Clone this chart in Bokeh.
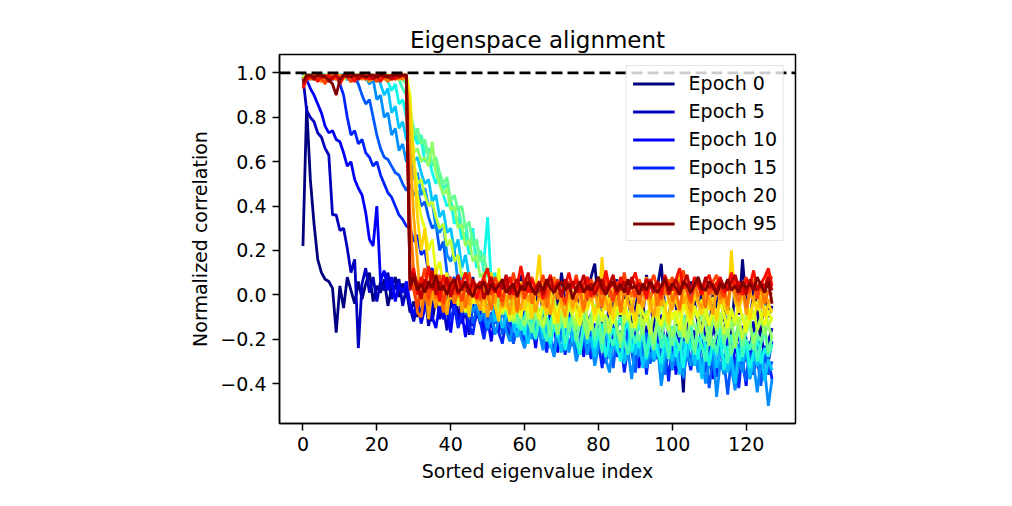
from bokeh.plotting import figure
from bokeh.models import Range1d, FixedTicker, CustomJSTickFormatter, Span, Legend, LegendItem
from bokeh.embed import file_html
from bokeh.resources import INLINE

# ---------------- data ----------------
epochs = [0, 5, 10, 15, 20, 25, 30, 35, 40, 45, 50, 55, 60, 65, 70, 75, 80, 85, 90, 95]
legend_epochs = [0, 5, 10, 15, 20, 95]
eig_index = list(range(128))
x_ticks = [0, 20, 40, 60, 80, 100, 120]
y_ticks = [-0.4, -0.2, 0.0, 0.2, 0.4, 0.6, 0.8, 1.0]
ref_level = 1.0

corr_e0 = [
    0.22, 0.85, 0.52, 0.32, 0.16, 0.10, 0.07, 0.06, 0.03, -0.17, 0.04, -0.06, 0.08, 0.02, -0.04, 0.06,
    -0.02, 0.05, 0.10, -0.03, 0.04, 0.01, 0.07, -0.05, 0.03, 0.08, -0.01, 0.05, 0.02, -0.08, -0.03, -0.10,
    0.02, -0.06, 0.05, -0.12, -0.02, 0.04, -0.09, 0.01, -0.05, 0.06, -0.11, -0.03, 0.03, -0.07, 0.08, -0.04,
    -0.13, 0.00, -0.06, 0.05, -0.10, -0.02, 0.07, -0.08, -0.15, 0.02, -0.04, 0.09, -0.07, -0.12, 0.03, -0.05,
    0.06, -0.09, -0.01, -0.14, 0.04, -0.06, 0.10, -0.03, -0.11, 0.01, -0.07, 0.05, -0.16, -0.02, 0.08, 0.14,
    -0.04, -0.10, -0.27, 0.02, -0.08, 0.07, -0.13, -0.03, 0.05, -0.18, -0.06, 0.03, -0.11, 0.09, -0.02, -0.15,
    0.04, 0.14, -0.07, -0.12, 0.02, -0.05, -0.20, -0.44, -0.09, 0.06, -0.03, -0.14, 0.03, -0.08, -0.17, 0.01,
    -0.06, 0.07, -0.12, -0.02, -0.19, 0.05, -0.09, 0.16, -0.04, -0.13, 0.02, -0.07, -0.22, 0.04, -0.10, -0.05,
]
corr_e5 = [
    0.98, 0.83, 0.80, 0.78, 0.73, 0.71, 0.66, 0.63, 0.36, 0.36, 0.29, 0.30, 0.21, 0.10, 0.16, -0.24,
    0.05, 0.12, 0.01, 0.08, -0.03, 0.06, 0.02, 0.10, -0.02, 0.04, 0.07, -0.05, 0.03, -0.06, -0.12, -0.04,
    -0.09, 0.01, -0.14, -0.06, 0.03, -0.11, -0.05, -0.16, -0.02, -0.09, 0.02, -0.13, -0.07, -0.18, -0.04, -0.10,
    -0.01, -0.15, -0.08, -0.12, -0.03, -0.17, -0.06, -0.11, -0.20, -0.07, -0.02, -0.14, -0.09, -0.19, -0.05, -0.12,
    -0.16, -0.08, -0.22, -0.10, -0.04, -0.15, -0.11, -0.21, -0.07, -0.13, -0.18, -0.06, -0.24, -0.12, -0.09, -0.17,
    -0.11, -0.20, -0.14, -0.06, -0.23, -0.15, -0.10, -0.19, -0.27, -0.12, -0.17, -0.08, -0.21, -0.14, -0.26, -0.11,
    -0.18, -0.09, -0.24, -0.15, -0.20, -0.13, -0.29, -0.17, -0.11, -0.22, -0.16, -0.30, -0.12, -0.19, -0.25, -0.14,
    -0.21, -0.28, -0.15, -0.10, -0.23, -0.18, -0.32, -0.14, -0.20, -0.26, -0.12, -0.24, -0.17, -0.29, -0.21, -0.15,
]
corr_e10 = [
    1.00, 0.97, 0.93, 0.90, 0.86, 0.82, 0.76, 0.73, 0.74, 0.70, 0.69, 0.64, 0.58, 0.60, 0.52, 0.48,
    0.45, 0.37, 0.25, 0.22, 0.40, 0.06, 0.11, 0.02, 0.08, -0.03, 0.05, 0.01, 0.06, -0.04, -0.09, -0.02,
    -0.13, -0.06, 0.02, -0.10, -0.15, -0.04, -0.11, -0.07, -0.17, -0.03, -0.12, -0.08, -0.19, -0.05, -0.14, -0.10,
    -0.06, -0.18, -0.11, -0.21, -0.08, -0.14, -0.03, -0.16, -0.12, -0.22, -0.09, -0.15, -0.07, -0.19, -0.13, -0.24,
    -0.10, -0.17, -0.08, -0.20, -0.14, -0.26, -0.12, -0.18, -0.09, -0.23, -0.16, -0.11, -0.28, -0.15, -0.20, -0.13,
    -0.24, -0.17, -0.31, -0.12, -0.21, -0.16, -0.27, -0.10, -0.19, -0.25, -0.14, -0.33, -0.18, -0.22, -0.13, -0.28,
    -0.20, -0.15, -0.30, -0.23, -0.17, -0.36, -0.21, -0.14, -0.27, -0.19, -0.32, -0.24, -0.16, -0.29, -0.22, -0.38,
    -0.18, -0.26, -0.31, -0.20, -0.35, -0.24, -0.17, -0.29, -0.41, -0.22, -0.27, -0.19, -0.33, -0.25, -0.30, -0.21,
]
corr_e15 = [
    1.00, 0.99, 0.99, 0.98, 0.99, 0.99, 0.98, 0.99, 0.97, 0.99, 0.95, 0.90, 0.80, 0.72, 0.74, 0.68,
    0.70, 0.64, 0.62, 0.58, 0.60, 0.54, 0.50, 0.46, 0.44, 0.40, 0.36, 0.34, 0.31, 0.30, 0.24, 0.27,
    0.18, 0.20, 0.10, 0.12, 0.02, 0.05, -0.08, -0.02, -0.12, -0.05, -0.15, -0.09, -0.03, -0.14, -0.18, -0.07,
    -0.12, -0.20, -0.09, -0.15, -0.05, -0.17, -0.22, -0.11, -0.16, -0.08, -0.19, -0.13, -0.24, -0.10, -0.17, -0.21,
    -0.12, -0.18, -0.26, -0.14, -0.09, -0.21, -0.16, -0.27, -0.13, -0.19, -0.23, -0.11, -0.25, -0.18, -0.29, -0.15,
    -0.21, -0.33, -0.17, -0.24, -0.12, -0.28, -0.20, -0.35, -0.23, -0.16, -0.30, -0.25, -0.19, -0.36, -0.22, -0.27,
    -0.18, -0.31, -0.24, -0.39, -0.21, -0.28, -0.17, -0.33, -0.26, -0.34, -0.23, -0.30, -0.20, -0.35, -0.27, -0.22,
    -0.37, -0.25, -0.31, -0.19, -0.34, -0.28, -0.42, -0.24, -0.30, -0.21, -0.36, -0.27, -0.33, -0.23, -0.29, -0.38,
]
corr_e20 = [
    1.00, 0.99, 0.99, 0.98, 0.99, 0.99, 0.97, 0.99, 0.99, 0.98, 0.99, 0.99, 0.97, 0.99, 0.98, 0.95,
    0.90, 0.86, 0.88, 0.80, 0.72, 0.66, 0.62, 0.61, 0.58, 0.55, 0.54, 0.50, 0.47, 0.50, 0.45, 0.47,
    0.40, 0.42, 0.35, 0.30, 0.32, 0.20, 0.24, 0.10, 0.05, 0.08, -0.04, 0.00, -0.09, -0.03, -0.13, -0.07,
    -0.02, -0.11, -0.16, -0.08, -0.13, -0.04, -0.18, -0.10, -0.15, -0.22, -0.09, -0.14, -0.19, -0.12, -0.06, -0.20,
    -0.15, -0.23, -0.11, -0.18, -0.26, -0.14, -0.20, -0.09, -0.24, -0.17, -0.28, -0.13, -0.21, -0.25, -0.16, -0.30,
    -0.19, -0.14, -0.27, -0.22, -0.33, -0.18, -0.24, -0.29, -0.16, -0.26, -0.35, -0.21, -0.28, -0.17, -0.31, -0.24,
    -0.29, -0.20, -0.36, -0.25, -0.19, -0.32, -0.27, -0.38, -0.22, -0.30, -0.26, -0.34, -0.21, -0.29, -0.42, -0.27,
    -0.33, -0.24, -0.30, -0.45, -0.28, -0.35, -0.22, -0.31, -0.39, -0.26, -0.33, -0.29, -0.41, -0.25, -0.36, -0.30,
]
corr_e25 = [
    0.99, 0.98, 0.99, 0.99, 0.97, 0.99, 0.99, 0.98, 0.99, 0.97, 0.99, 0.99, 0.98, 0.99, 0.99, 0.97,
    0.99, 0.98, 0.95, 0.97, 0.88, 0.90, 0.80, 0.82, 0.72, 0.75, 0.65, 0.68, 0.60, 0.62, 0.52, 0.55,
    0.45, 0.48, 0.40, 0.42, 0.30, 0.28, 0.32, 0.18, 0.15, 0.20, 0.05, 0.10, -0.02, 0.03, -0.08, -0.04,
    -0.12, -0.06, -0.15, -0.09, -0.18, -0.11, -0.05, -0.16, -0.21, -0.13, -0.08, -0.19, -0.24, -0.14, -0.20, -0.10,
    -0.17, -0.25, -0.13, -0.22, -0.28, -0.16, -0.21, -0.11, -0.26, -0.19, -0.30, -0.23, -0.15, -0.27, -0.20, -0.32,
    -0.24, -0.18, -0.29, -0.35, -0.21, -0.26, -0.16, -0.31, -0.25, -0.38, -0.22, -0.28, -0.19, -0.33, -0.26, -0.30,
    -0.23, -0.41, -0.29, -0.24, -0.34, -0.20, -0.30, -0.37, -0.26, -0.32, -0.22, -0.35, -0.28, -0.40, -0.31, -0.25,
    -0.46, -0.30, -0.36, -0.27, -0.33, -0.43, -0.29, -0.35, -0.24, -0.38, -0.31, -0.44, -0.28, -0.34, -0.50, -0.38,
]
corr_e30 = [
    0.99, 0.99, 0.97, 0.99, 0.98, 0.99, 0.99, 0.97, 0.99, 0.98, 0.99, 0.99, 0.97, 0.99, 0.98, 0.99,
    0.99, 0.97, 0.99, 0.98, 0.99, 0.95, 0.90, 0.93, 0.82, 0.85, 0.75, 0.78, 0.70, 0.68, 0.60, 0.62,
    0.55, 0.50, 0.52, 0.42, 0.45, 0.35, 0.38, 0.28, 0.30, 0.20, 0.25, 0.12, 0.18, 0.08, 0.02, 0.05,
    -0.05, 0.00, -0.09, -0.03, -0.12, -0.07, -0.15, -0.10, -0.04, -0.14, -0.19, -0.09, -0.16, -0.22, -0.11, -0.17,
    -0.08, -0.20, -0.14, -0.24, -0.12, -0.18, -0.26, -0.15, -0.10, -0.21, -0.17, -0.27, -0.13, -0.22, -0.19, -0.28,
    -0.16, -0.23, -0.12, -0.29, -0.20, -0.25, -0.17, -0.31, -0.22, -0.15, -0.27, -0.20, -0.33, -0.24, -0.18, -0.29,
    -0.22, -0.34, -0.26, -0.19, -0.30, -0.24, -0.36, -0.21, -0.28, -0.17, -0.32, -0.25, -0.38, -0.23, -0.29, -0.20,
    -0.33, -0.26, -0.21, -0.35, -0.28, -0.40, -0.24, -0.30, -0.22, -0.37, -0.27, -0.32, -0.25, -0.39, -0.29, -0.34,
]
corr_e35 = [
    0.99, 0.98, 0.99, 0.99, 0.97, 0.99, 0.99, 0.98, 0.99, 0.97, 0.99, 0.99, 0.98, 0.99, 0.99, 0.97,
    0.99, 0.98, 0.99, 0.99, 0.97, 0.99, 0.98, 0.96, 0.92, 0.95, 0.86, 0.88, 0.80, 0.78, 0.72, 0.68,
    0.70, 0.60, 0.62, 0.55, 0.50, 0.55, 0.45, 0.40, 0.42, 0.32, 0.35, 0.25, 0.28, 0.18, 0.30, 0.12,
    0.20, 0.15, 0.35, 0.05, 0.10, -0.02, -0.08, -0.03, -0.12, -0.06, -0.15, -0.10, -0.18, -0.07, -0.13, -0.20,
    -0.11, -0.17, -0.08, -0.22, -0.14, -0.19, -0.10, -0.25, -0.16, -0.12, -0.21, -0.27, -0.15, -0.19, -0.11, -0.24,
    -0.18, -0.13, -0.28, -0.20, -0.15, -0.23, -0.30, -0.17, -0.12, -0.26, -0.19, -0.24, -0.14, -0.29, -0.21, -0.17,
    -0.26, -0.31, -0.19, -0.23, -0.15, -0.28, -0.22, -0.33, -0.18, -0.25, -0.20, -0.29, -0.16, -0.24, -0.32, -0.21,
    -0.27, -0.19, -0.34, -0.23, -0.28, -0.17, -0.30, -0.25, -0.21, -0.33, -0.26, -0.19, -0.31, -0.24, -0.28, -0.22,
]
corr_e40 = [
    0.99, 0.99, 0.98, 0.99, 0.99, 0.97, 0.99, 0.99, 0.98, 0.99, 0.99, 0.98, 0.99, 0.97, 0.99, 0.99,
    0.98, 0.99, 0.99, 0.97, 0.99, 0.98, 0.99, 0.99, 0.97, 0.99, 0.97, 0.93, 0.90, 0.82, 0.75, 0.70,
    0.72, 0.64, 0.66, 0.58, 0.60, 0.52, 0.48, 0.50, 0.42, 0.38, 0.40, 0.30, 0.32, 0.22, 0.28, 0.15,
    0.20, 0.10, 0.12, 0.03, 0.06, -0.04, -0.01, -0.09, -0.05, -0.13, -0.08, -0.16, -0.10, -0.04, -0.14, -0.19,
    -0.09, -0.15, -0.21, -0.12, -0.07, -0.17, -0.11, -0.22, -0.14, -0.09, -0.19, -0.25, -0.13, -0.18, -0.10, -0.21,
    -0.15, -0.26, -0.12, -0.19, -0.23, -0.14, -0.10, -0.20, -0.27, -0.16, -0.22, -0.13, -0.18, -0.28, -0.15, -0.21,
    -0.11, -0.24, -0.18, -0.29, -0.14, -0.20, -0.25, -0.16, -0.22, -0.12, -0.27, -0.19, -0.23, -0.30, -0.17, -0.21,
    -0.26, -0.15, -0.22, -0.31, -0.18, -0.24, -0.14, -0.28, -0.20, -0.25, -0.17, -0.30, -0.22, -0.16, -0.27, -0.23,
]
corr_e45 = [
    0.99, 0.98, 0.99, 0.99, 0.97, 0.99, 0.99, 0.98, 0.99, 0.99, 0.97, 0.99, 0.98, 0.99, 0.99, 0.98,
    0.99, 0.97, 0.99, 0.99, 0.98, 0.99, 0.99, 0.97, 0.99, 0.98, 0.99, 0.97, 0.95, 0.85, 0.72, 0.75,
    0.68, 0.70, 0.62, 0.60, 0.62, 0.55, 0.50, 0.53, 0.42, 0.45, 0.38, 0.40, 0.30, 0.33, 0.22, 0.25,
    0.15, 0.18, 0.08, 0.10, 0.02, 0.05, -0.05, -0.02, -0.10, -0.06, -0.13, -0.08, -0.03, -0.12, -0.17, -0.09,
    -0.14, -0.06, -0.11, -0.19, -0.08, -0.15, -0.12, -0.05, -0.17, -0.10, -0.21, -0.13, -0.08, -0.16, -0.11, -0.19,
    -0.09, -0.22, -0.14, -0.18, -0.10, -0.16, -0.24, -0.12, -0.07, -0.19, -0.13, -0.21, -0.15, -0.09, -0.18, -0.25,
    -0.13, -0.20, -0.11, -0.17, -0.23, -0.14, -0.19, -0.09, -0.22, -0.16, -0.26, -0.12, -0.18, -0.21, -0.14, -0.24,
    -0.17, -0.11, -0.22, -0.15, -0.27, -0.19, -0.13, -0.23, -0.17, -0.12, -0.25, -0.18, -0.21, -0.14, -0.26, -0.19,
]
corr_e50 = [
    0.98, 0.99, 0.99, 0.97, 0.99, 0.99, 0.98, 0.99, 0.99, 0.98, 0.99, 0.97, 0.99, 0.99, 0.98, 0.99,
    0.99, 0.99, 0.98, 0.99, 0.99, 0.97, 0.99, 0.99, 0.98, 0.99, 0.99, 0.98, 0.99, 0.78, 0.64, 0.66,
    0.60, 0.62, 0.58, 0.69, 0.55, 0.50, 0.45, 0.48, 0.38, 0.40, 0.30, 0.32, 0.22, 0.25, 0.15, 0.18,
    0.08, 0.10, 0.00, 0.03, -0.05, -0.01, -0.09, -0.04, -0.12, -0.06, -0.02, -0.10, -0.14, -0.07, -0.03, -0.11,
    -0.06, -0.15, -0.09, -0.04, -0.12, -0.18, -0.08, -0.13, -0.05, -0.10, -0.16, -0.07, -0.12, -0.20, -0.09, -0.04,
    -0.13, -0.08, -0.17, -0.11, -0.06, -0.14, -0.21, -0.09, -0.12, -0.05, -0.15, -0.10, -0.18, -0.07, -0.13, -0.22,
    -0.10, -0.16, -0.08, -0.13, -0.19, -0.11, -0.06, -0.15, -0.21, -0.09, -0.14, -0.18, -0.07, -0.12, -0.23, -0.10,
    -0.16, -0.13, -0.08, -0.19, -0.11, -0.24, -0.14, -0.09, -0.17, -0.12, -0.22, -0.15, -0.10, -0.18, -0.13, -0.20,
]
corr_e55 = [
    0.97, 0.99, 0.99, 0.98, 0.99, 0.99, 0.97, 0.99, 0.98, 0.99, 0.99, 0.98, 0.99, 0.97, 0.99, 0.99,
    0.99, 0.98, 0.99, 0.99, 0.97, 0.99, 0.98, 0.99, 0.99, 0.98, 0.99, 0.99, 0.99, 0.70, 0.60, 0.50,
    0.52, 0.45, 0.40, 0.42, 0.35, 0.30, 0.32, 0.22, 0.25, 0.15, 0.18, 0.08, 0.10, 0.02, 0.06, -0.04,
    0.01, -0.08, -0.02, -0.06, 0.03, -0.10, -0.04, -0.07, 0.00, -0.12, -0.05, -0.09, -0.02, -0.11, -0.06, -0.03,
    -0.10, -0.14, -0.05, -0.08, -0.01, -0.12, -0.07, -0.15, -0.04, -0.09, -0.13, -0.06, -0.02, -0.11, -0.16, -0.08,
    -0.05, -0.12, -0.09, -0.17, -0.06, -0.10, -0.03, -0.13, -0.08, -0.15, -0.11, -0.05, -0.14, -0.09, -0.18, -0.07,
    -0.12, -0.04, -0.10, -0.16, -0.08, -0.13, -0.06, -0.19, -0.10, -0.14, -0.07, -0.11, -0.17, -0.05, -0.12, -0.09,
    -0.15, -0.08, -0.18, -0.11, -0.06, -0.14, -0.10, -0.20, -0.09, -0.13, -0.07, -0.16, -0.11, -0.05, -0.14, -0.10,
]
corr_e60 = [
    0.98, 0.99, 0.99, 0.98, 0.99, 0.97, 0.99, 0.99, 0.98, 0.99, 0.99, 0.97, 0.99, 0.98, 0.99, 0.99,
    0.98, 0.99, 0.99, 0.97, 0.99, 0.98, 0.99, 0.99, 0.98, 0.99, 0.97, 0.99, 0.99, 0.90, 0.62, 0.45,
    0.35, 0.30, 0.20, 0.25, 0.10, 0.15, 0.05, 0.10, -0.02, 0.06, -0.05, 0.03, -0.08, 0.00, -0.04, 0.05,
    -0.07, -0.01, -0.10, 0.02, -0.04, 0.12, -0.08, -0.03, -0.12, 0.00, -0.06, -0.10, -0.02, -0.08, 0.03, -0.05,
    -0.11, -0.04, -0.08, 0.01, -0.13, -0.06, -0.02, -0.10, -0.05, 0.02, -0.09, -0.14, -0.04, -0.07, -0.01, -0.12,
    -0.06, -0.10, 0.00, -0.08, -0.13, -0.04, -0.09, -0.02, -0.11, -0.06, -0.15, -0.03, -0.08, -0.12, -0.05, -0.01,
    -0.09, -0.14, -0.06, -0.02, -0.11, -0.07, -0.16, -0.04, -0.09, -0.13, -0.05, -0.10, -0.02, -0.08, -0.14, -0.06,
    -0.11, -0.03, -0.09, -0.15, -0.07, -0.12, -0.04, -0.10, -0.17, -0.06, -0.11, -0.03, -0.09, -0.14, -0.07, -0.12,
]
corr_e65 = [
    0.97, 0.99, 0.98, 0.99, 0.97, 0.99, 0.98, 0.99, 0.99, 0.97, 0.99, 0.98, 0.99, 0.99, 0.97, 0.99,
    0.99, 0.98, 0.99, 0.97, 0.99, 0.99, 0.98, 0.99, 0.97, 0.99, 0.99, 0.98, 0.99, 0.85, 0.60, 0.35,
    0.20, 0.30, 0.10, 0.02, 0.12, -0.05, 0.04, -0.08, 0.06, -0.02, 0.08, -0.06, 0.01, -0.10, 0.03, -0.04,
    0.05, -0.08, 0.00, 0.10, -0.05, -0.12, 0.02, -0.06, 0.04, -0.09, -0.02, 0.06, -0.07, 0.00, -0.11, 0.03,
    0.18, -0.04, -0.09, 0.02, -0.06, -0.13, 0.01, -0.05, 0.05, -0.08, -0.02, -0.10, 0.03, -0.06, 0.00, -0.09,
    -0.03, 0.17, -0.07, -0.01, -0.11, 0.04, -0.05, -0.09, 0.02, -0.04, -0.12, 0.00, -0.06, 0.03, -0.08, -0.02,
    -0.10, 0.01, -0.05, -0.13, 0.04, -0.03, -0.08, 0.02, -0.06, -0.11, 0.00, -0.04, -0.09, 0.03, -0.07, -0.01,
    -0.12, 0.02, -0.05, -0.09, 0.20, -0.03, -0.08, 0.01, -0.06, -0.11, -0.02, -0.07, 0.03, -0.10, -0.04, -0.08,
]
corr_e70 = [
    0.96, 0.98, 0.99, 0.97, 0.99, 0.99, 0.97, 0.99, 0.98, 0.99, 0.96, 0.99, 0.98, 0.99, 0.97, 0.99,
    0.98, 0.99, 0.96, 0.99, 0.98, 0.99, 0.97, 0.99, 0.98, 0.99, 0.97, 0.99, 0.99, 0.65, 0.35, 0.15,
    -0.05, 0.06, -0.11, 0.02, -0.06, 0.08, -0.03, -0.09, 0.03, -0.04, 0.05, -0.08, 0.00, -0.05, 0.07, -0.02,
    -0.07, 0.03, -0.10, 0.01, -0.04, 0.06, -0.06, 0.00, -0.09, 0.04, -0.02, -0.07, 0.05, -0.03, 0.02, -0.08,
    0.00, -0.05, 0.04, -0.09, -0.01, 0.06, -0.04, -0.10, 0.02, -0.06, 0.03, -0.02, -0.08, 0.05, -0.03, 0.01,
    -0.06, 0.04, -0.02, -0.09, 0.03, -0.05, 0.00, 0.07, -0.04, -0.08, 0.02, -0.01, -0.06, 0.05, -0.03, -0.10,
    0.01, -0.05, 0.04, -0.02, -0.07, 0.03, 0.09, -0.04, 0.00, -0.08, 0.05, -0.03, -0.06, 0.02, -0.01, -0.09,
    0.04, -0.04, 0.00, -0.07, 0.06, -0.02, -0.05, 0.03, -0.09, 0.01, -0.03, 0.05, -0.06, 0.02, -0.04, -0.01,
]
corr_e75 = [
    0.95, 0.99, 0.97, 0.99, 0.98, 0.96, 0.99, 0.98, 0.99, 0.97, 0.99, 0.98, 0.99, 0.96, 0.98, 0.99,
    0.97, 0.99, 0.98, 0.99, 0.97, 0.99, 0.98, 0.96, 0.99, 0.98, 0.99, 0.97, 0.99, 0.35, 0.10, -0.08,
    -0.10, 0.02, -0.05, 0.07, -0.02, 0.04, -0.08, 0.03, 0.08, -0.04, 0.01, 0.06, -0.06, 0.02, -0.01, 0.05,
    -0.03, 0.09, 0.00, -0.07, 0.04, 0.01, -0.05, 0.06, -0.02, 0.03, -0.08, 0.05, 0.00, 0.07, -0.04, 0.02,
    -0.01, 0.05, -0.06, 0.03, 0.08, -0.02, 0.01, -0.05, 0.06, 0.00, -0.03, 0.04, -0.07, 0.02, 0.05, -0.01,
    0.03, -0.06, 0.07, 0.00, -0.03, 0.05, -0.08, 0.02, 0.04, -0.01, 0.06, -0.04, 0.01, 0.08, -0.02, 0.03,
    -0.05, 0.04, 0.00, 0.07, -0.03, 0.02, -0.07, 0.05, 0.01, -0.04, 0.06, -0.01, 0.03, -0.06, 0.04, 0.00,
    0.06, -0.02, 0.03, -0.05, 0.08, 0.01, -0.03, 0.05, -0.06, 0.02, 0.07, -0.01, 0.04, -0.04, 0.02, 0.00,
]
corr_e80 = [
    0.94, 0.98, 0.99, 0.97, 0.99, 0.98, 0.95, 0.99, 0.98, 0.99, 0.97, 0.99, 0.98, 0.96, 0.99, 0.98,
    0.99, 0.97, 0.99, 0.98, 0.96, 0.99, 0.98, 0.99, 0.97, 0.99, 0.98, 0.99, 0.99, 0.10, 0.02, -0.06,
    0.05, 0.12, -0.02, 0.06, 0.01, 0.09, -0.04, 0.04, 0.08, 0.00, 0.06, -0.03, 0.03, 0.10, 0.01, 0.05,
    -0.02, 0.07, 0.03, 0.00, 0.08, 0.04, -0.03, 0.06, 0.02, 0.10, 0.00, 0.05, -0.02, 0.04, 0.08, 0.01,
    0.03, 0.09, -0.01, 0.05, 0.02, 0.07, 0.00, -0.04, 0.06, 0.03, 0.09, 0.01, 0.04, -0.02, 0.07, 0.02,
    0.05, 0.00, 0.08, 0.03, -0.03, 0.06, 0.02, 0.10, 0.01, 0.04, -0.01, 0.07, 0.03, 0.00, 0.05, 0.09,
    0.02, -0.02, 0.06, 0.03, 0.08, 0.00, 0.04, 0.11, 0.02, -0.03, 0.05, 0.07, 0.01, 0.04, 0.00, 0.06,
    0.09, 0.02, -0.01, 0.05, 0.03, 0.07, 0.00, 0.04, 0.08, 0.01, 0.05, -0.02, 0.06, 0.03, 0.10, 0.07,
]
corr_e85 = [
    0.93, 0.97, 0.98, 0.99, 0.96, 0.99, 0.98, 0.99, 0.97, 0.99, 0.95, 0.98, 0.99, 0.99, 0.96, 0.99,
    0.98, 0.99, 0.97, 0.99, 0.99, 0.96, 0.99, 0.98, 0.99, 0.97, 0.99, 0.99, 0.98, 0.06, 0.12, 0.00,
    0.08, 0.03, 0.13, 0.02, 0.06, -0.03, 0.09, 0.04, 0.01, 0.07, 0.00, 0.05, 0.10, 0.03, 0.06, -0.02,
    0.04, 0.08, 0.12, 0.02, 0.05, -0.01, 0.06, 0.03, 0.08, 0.00, 0.04, 0.13, 0.05, 0.01, 0.07, 0.03,
    0.06, -0.02, 0.05, 0.09, 0.02, 0.06, 0.00, 0.04, 0.10, 0.03, 0.07, 0.01, 0.05, 0.08, -0.01, 0.04,
    0.07, 0.02, 0.11, 0.03, 0.05, 0.00, 0.08, 0.04, 0.01, 0.06, 0.10, 0.02, 0.05, -0.02, 0.07, 0.03,
    0.06, 0.00, 0.09, 0.04, 0.02, 0.07, 0.12, 0.03, 0.05, 0.01, 0.08, 0.04, 0.00, 0.06, 0.09, 0.02,
    0.05, 0.08, 0.01, 0.04, 0.10, 0.03, 0.06, 0.00, 0.07, 0.04, 0.11, 0.02, 0.05, 0.08, 0.12, 0.04,
]
corr_e90 = [
    0.95, 0.98, 0.99, 0.97, 0.99, 0.98, 0.99, 0.96, 0.98, 0.99, 0.97, 0.99, 0.98, 0.99, 0.99, 0.97,
    0.99, 0.98, 0.99, 0.97, 0.99, 0.99, 0.98, 0.99, 0.97, 0.99, 0.98, 0.99, 0.99, 0.02, 0.10, 0.05,
    -0.02, 0.07, 0.03, 0.11, 0.00, 0.06, 0.02, 0.08, -0.01, 0.04, 0.09, 0.02, 0.05, 0.00, 0.07, 0.03,
    0.06, -0.02, 0.04, 0.08, 0.01, 0.05, 0.03, 0.09, 0.00, 0.04, 0.07, 0.02, 0.05, 0.10, 0.01, 0.03,
    0.06, 0.00, 0.04, 0.08, 0.02, 0.05, -0.01, 0.07, 0.03, 0.06, 0.01, 0.04, 0.09, 0.02, 0.05, 0.00,
    0.04, 0.07, 0.02, 0.05, 0.09, 0.01, 0.03, 0.06, 0.00, 0.08, 0.03, 0.05, 0.02, 0.07, 0.04, 0.01,
    0.06, 0.03, 0.08, 0.00, 0.04, 0.07, 0.02, 0.05, 0.09, 0.01, 0.04, 0.06, 0.02, 0.08, 0.03, 0.05,
    0.01, 0.07, 0.04, 0.02, 0.06, 0.09, 0.03, 0.05, 0.00, 0.07, 0.04, 0.02, 0.06, 0.03, 0.08, 0.02,
]
corr_e95 = [
    0.96, 0.99, 0.99, 0.98, 0.99, 0.99, 0.98, 0.97, 0.95, 0.90, 0.97, 0.99, 0.99, 0.98, 0.99, 0.99,
    0.99, 0.98, 0.99, 0.99, 0.98, 0.99, 0.99, 0.98, 0.99, 0.99, 0.99, 0.99, 0.99, 0.04, 0.08, 0.02,
    0.05, 0.01, 0.06, 0.03, 0.09, 0.02, 0.04, 0.00, 0.05, 0.07, 0.01, 0.03, 0.06, 0.02, -0.01, 0.04,
    0.03, 0.06, 0.00, 0.05, 0.02, 0.04, 0.07, 0.01, 0.03, 0.05, -0.01, 0.04, 0.02, 0.06, 0.03, 0.00,
    0.05, 0.02, 0.07, 0.03, 0.01, 0.04, 0.06, 0.02, 0.05, -0.02, 0.03, 0.06, 0.01, 0.04, 0.02, 0.05,
    0.08, 0.03, 0.00, 0.04, 0.06, 0.02, 0.05, 0.01, 0.07, 0.03, 0.04, 0.00, 0.05, 0.02, 0.06, 0.03,
    0.01, 0.04, 0.07, 0.02, 0.05, 0.03, 0.00, 0.06, 0.04, 0.01, 0.05, 0.08, 0.03, 0.02, 0.06, 0.04,
    0.00, 0.05, 0.03, 0.07, 0.02, 0.04, 0.01, 0.06, 0.03, 0.05, 0.02, 0.08, 0.04, 0.01, 0.06, -0.04,
]

series = [corr_e0, corr_e5, corr_e10, corr_e15, corr_e20, corr_e25, corr_e30, corr_e35,
          corr_e40, corr_e45, corr_e50, corr_e55, corr_e60, corr_e65, corr_e70, corr_e75,
          corr_e80, corr_e85, corr_e90, corr_e95]

# ---------------- jet colormap (matplotlib definition) ----------------
_R = [(0, 0), (0.35, 0), (0.66, 1), (0.89, 1), (1, 0.5)]
_G = [(0, 0), (0.125, 0), (0.375, 1), (0.64, 1), (0.91, 0), (1, 0)]
_B = [(0, 0.5), (0.11, 1), (0.34, 1), (0.65, 0), (1, 0)]


def _seg(t, pts):
    for (x0, y0), (x1, y1) in zip(pts, pts[1:]):
        if t <= x1:
            return y0 + (y1 - y0) * (t - x0) / (x1 - x0)
    return pts[-1][1]


def jet(t):
    r, g, b = (_seg(t, c) for c in (_R, _G, _B))
    return "#%02x%02x%02x" % (round(r * 255), round(g * 255), round(b * 255))


FONT = "DejaVu Sans"

p = figure(width=996, height=490, output_backend="svg", toolbar_location=None,
           x_range=Range1d(-6.35, 133.35), y_range=Range1d(-0.58, 1.083),
           min_border_left=279, min_border_right=201, min_border_top=54, min_border_bottom=67,
           title="Eigenspace alignment")
p.background_fill_color = "white"
p.border_fill_color = "white"
p.grid.visible = False
p.outline_line_color = "black"
p.outline_line_width = 1.5

p.title.text_font = FONT
p.title.text_font_size = "23px"
p.title.text_font_style = "normal"
p.title.text_color = "black"
p.title.align = "center"
p.title.standoff = 4

p.xaxis.ticker = FixedTicker(ticks=x_ticks)
p.yaxis.ticker = FixedTicker(ticks=y_ticks)
p.yaxis.formatter = CustomJSTickFormatter(code="return tick.toFixed(1).replace('-', '\\u2212');")
p.xaxis.axis_label = "Sorted eigenvalue index"
p.yaxis.axis_label = "Normalized correlation"
for ax in (p.xaxis[0], p.yaxis[0]):
    ax.axis_line_width = 1.5
    ax.major_tick_line_width = 1.5
    ax.major_tick_out = 7
    ax.major_tick_in = 0
    ax.minor_tick_line_color = None
    ax.major_label_standoff = 6
    ax.major_label_text_font = FONT
    ax.major_label_text_font_size = "19px"
    ax.major_label_text_color = "black"
    ax.axis_label_text_font = FONT
    ax.axis_label_text_font_size = "19px"
    ax.axis_label_text_font_style = "normal"
    ax.axis_label_text_color = "black"
    ax.axis_label_standoff = 6

n = len(series)
renderers = []
for i, (ep, ys) in enumerate(zip(epochs, series)):
    r = p.line(eig_index[:len(ys)], ys, line_color=jet(i / (n - 1)), line_width=2.8)
    renderers.append(r)

p.add_layout(Span(location=ref_level, dimension="width", line_color="black",
                  line_width=2.8, line_dash="11 5"))

items = [LegendItem(label="Epoch %d" % ep, renderers=[renderers[epochs.index(ep)]])
         for ep in legend_epochs]
legend = Legend(items=items, location="top_right", margin=11, padding=6, spacing=6,
                glyph_width=42, glyph_height=19, label_height=19, label_standoff=14,
                label_text_font=FONT, label_text_font_size="19px", label_text_color="black",
                border_line_color="#cccccc", border_line_width=1.5,
                background_fill_color="white", background_fill_alpha=0.8)
p.add_layout(legend)

open("out.html", "w").write(file_html(p, INLINE))
